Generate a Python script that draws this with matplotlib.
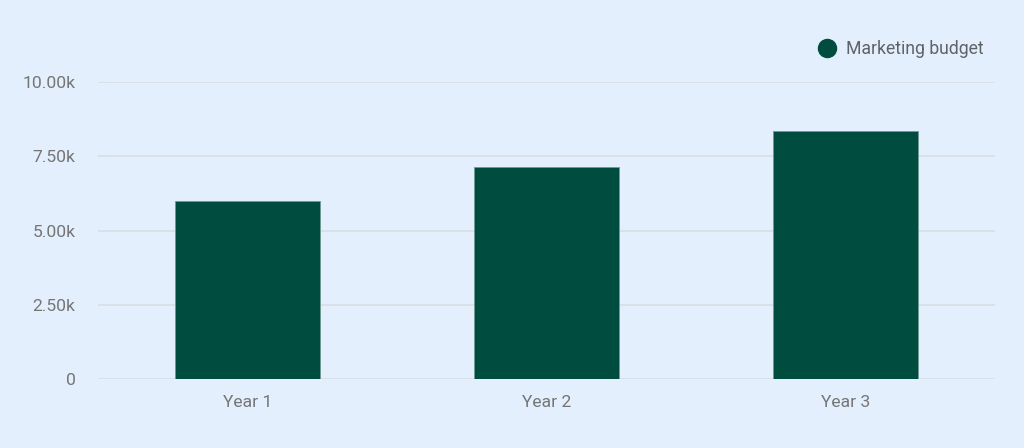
import matplotlib.pyplot as plt
from matplotlib.ticker import FuncFormatter
from matplotlib.lines import Line2D

anos = ['Year 1', 'Year 2', 'Year 3']
orcamento = [6000, 7150, 8350]
serie = 'Marketing budget'

fundo = '#e3effd'
cor_barra = '#004d40'
cor_texto = '#757575'
cor_grade = '#d9dde3'

plt.rcParams['font.family'] = ['Roboto', 'DejaVu Sans']

fig = plt.figure(figsize=(10.24, 4.48), dpi=100, facecolor=fundo)
ax = fig.add_axes([0.0954, 0.1533, 0.8763, 0.6637])
ax.set_facecolor(fundo)

x = list(range(len(anos)))
ax.bar(x, orcamento, width=0.484, color=cor_barra, edgecolor='#6f9a93',
       linewidth=0.6, zorder=3)

ax.set_xlim(-0.5, len(anos) - 0.5)
ax.set_ylim(0, 10000)
ax.set_yticks([0, 2500, 5000, 7500, 10000])


def fmt_k(v, pos):
    if v == 0:
        return '0'
    return f'{v / 1000:.2f}k'


ax.yaxis.set_major_formatter(FuncFormatter(fmt_k))
ax.set_xticks(x)
ax.set_xticklabels(anos)

ax.grid(axis='y', color=cor_grade, linewidth=1.2, zorder=0)
for lado in ['top', 'right', 'left', 'bottom']:
    ax.spines[lado].set_visible(False)
ax.tick_params(axis='both', length=0, labelsize=12.6, labelcolor=cor_texto)
ax.tick_params(axis='y', pad=16)
ax.tick_params(axis='x', pad=11)

marcador = Line2D([0], [0], marker='o', color='none', markerfacecolor=cor_barra,
                  markeredgecolor=cor_barra, markersize=13)
leg = fig.legend([marcador], [serie], loc='center right',
                 bbox_to_anchor=(0.976, 0.891), frameon=False,
                 fontsize=12.7, labelcolor='#5f6368', handletextpad=0.45,
                 handlelength=1.2)

fig.savefig('out.png', dpi=100, facecolor=fundo)
